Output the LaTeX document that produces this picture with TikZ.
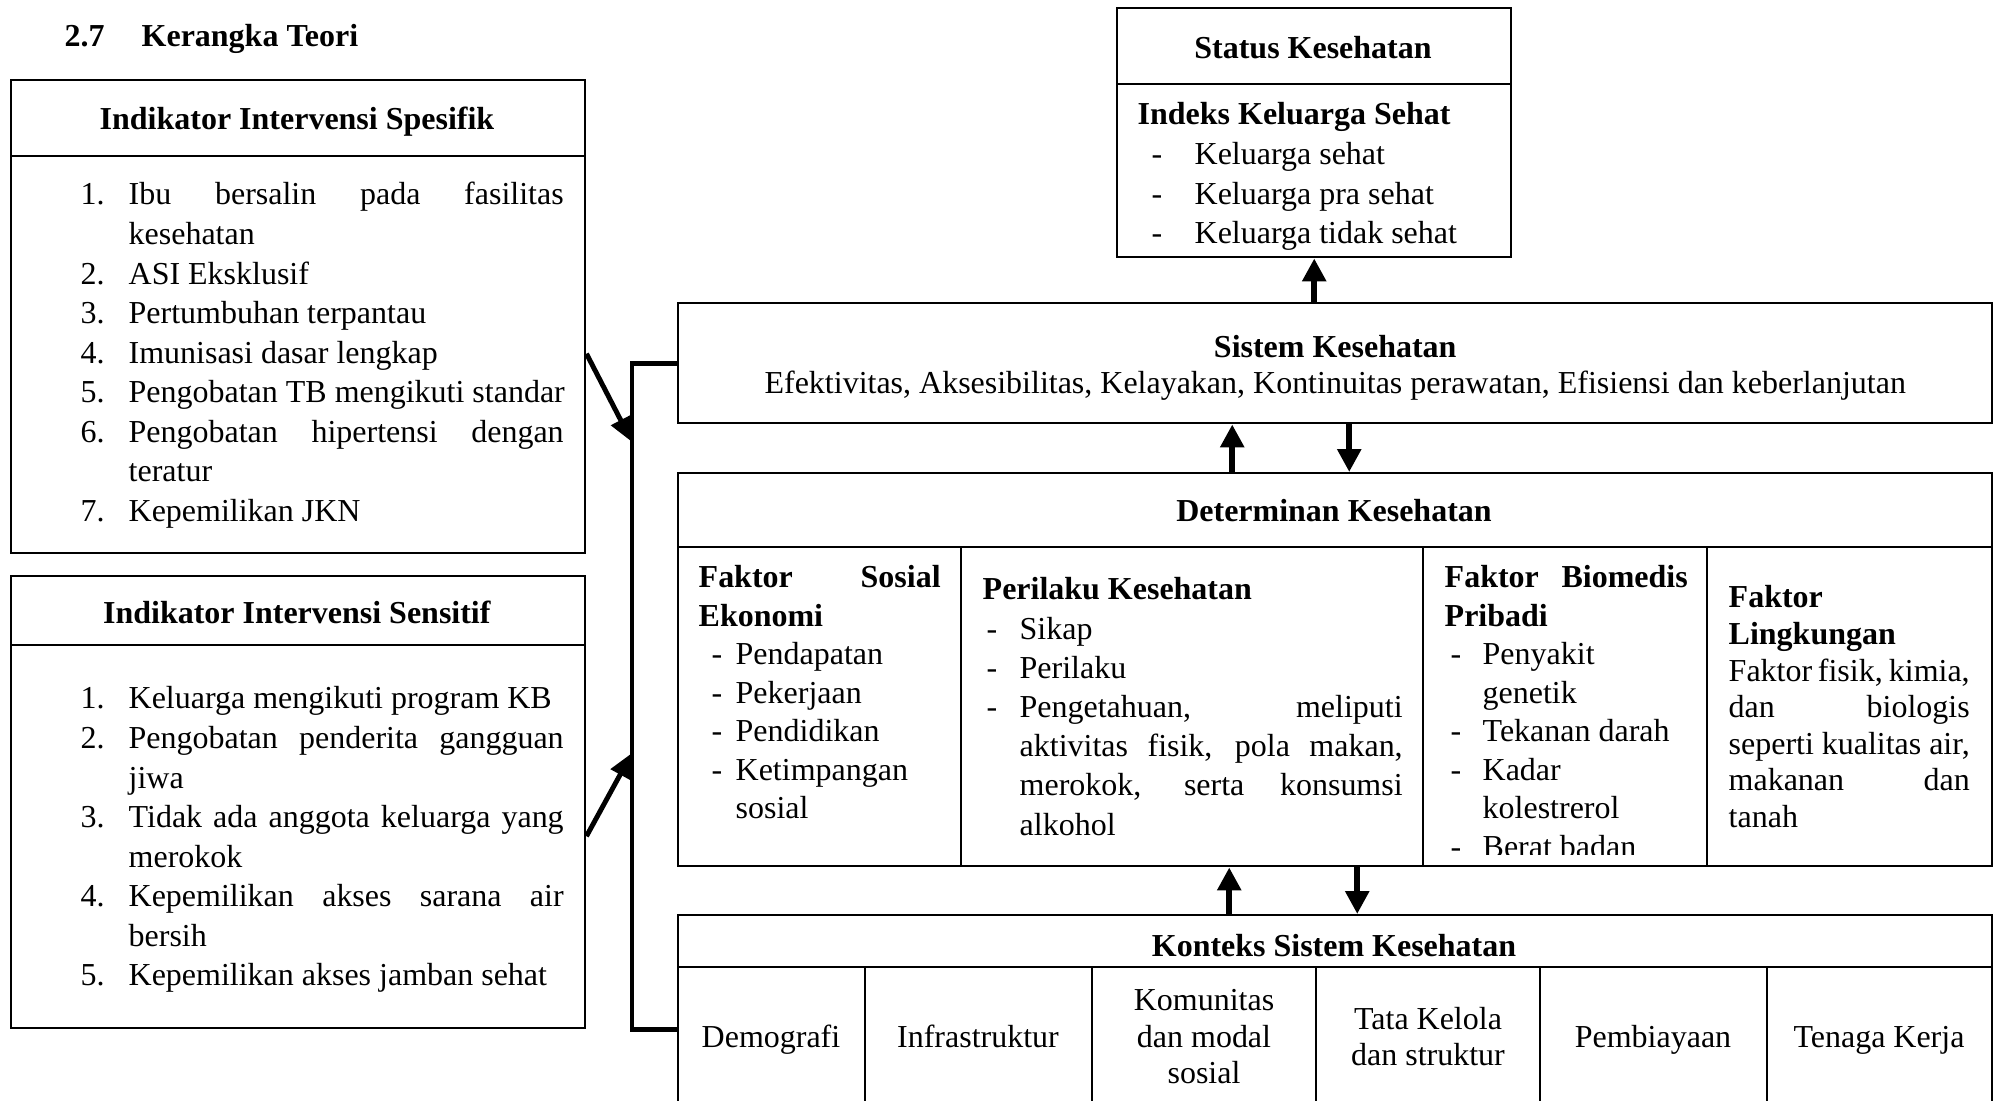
\documentclass[tikz,border=0pt]{standalone}
\usepackage{fontspec}
\setmainfont{Liberation Serif}
\usetikzlibrary{arrows.meta}

\newcommand{\jline}[2]{\makebox[#1][s]{#2}}
\newcommand{\dsh}[1]{\hspace{#1}-}

\begin{document}
\begin{tikzpicture}[
  font=\fontsize{9.1}{11.25}\selectfont,
  box/.style={draw, line width=0.7pt, rectangle, inner sep=0, anchor=north west},
  txt/.style={inner sep=0, anchor=base west},
  bigarrow/.style={line width=1.7pt, -{Triangle[width=6.5pt,length=6.5pt]}},
  diagarrow/.style={line width=1.4pt, -{Triangle[width=6pt,length=7pt]}},
  bracket/.style={line width=1.4pt}
]
\clip (0,0) rectangle (20,-11.01);

\node[txt] (title) at (0.64,-0.47) {\makebox[0.77cm][l]{\textbf{2.7}}\textbf{Kerangka Teori}};

\node[box, minimum width=5.74cm, minimum height=4.73cm] (spes) at (0.10,-0.79) {};
\draw[line width=0.7pt] (0.10,-1.56) -- (5.84,-1.56);
\node (spesh) at (2.97,-1.22) {\textbf{Indikator Intervensi Spesifik}};
\node[txt] (spesl) at (0.80,-2.05) {\begin{tabular}[t]{@{}p{0.48cm}@{}l@{}}
1. & \jline{4.35cm}{Ibu bersalin pada fasilitas}\\
   & kesehatan\\
2. & ASI Eksklusif\\
3. & Pertumbuhan terpantau\\
4. & Imunisasi dasar lengkap\\
5. & Pengobatan TB mengikuti standar\\
6. & \jline{4.35cm}{Pengobatan hipertensi dengan}\\
   & teratur\\
7. & Kepemilikan JKN
\end{tabular}};

\node[box, minimum width=5.74cm, minimum height=4.52cm] (sens) at (0.10,-5.75) {};
\draw[line width=0.7pt] (0.10,-6.45) -- (5.84,-6.45);
\node (sensh) at (2.97,-6.12) {\textbf{Indikator Intervensi Sensitif}};
\node[txt] (sensl) at (0.80,-7.09) {\begin{tabular}[t]{@{}p{0.48cm}@{}l@{}}
1. & Keluarga mengikuti program KB\\
2. & \jline{4.35cm}{Pengobatan penderita gangguan}\\
   & jiwa\\
3. & \jline{4.35cm}{Tidak ada anggota keluarga yang}\\
   & merokok\\
4. & \jline{4.35cm}{Kepemilikan akses sarana air}\\
   & bersih\\
5. & Kepemilikan akses jamban sehat
\end{tabular}};

\node[box, minimum width=3.94cm, minimum height=2.49cm] (status) at (11.16,-0.07) {};
\draw[line width=0.7pt] (11.16,-0.84) -- (15.10,-0.84);
\node (statush) at (13.13,-0.48) {\textbf{Status Kesehatan}};
\node[txt] (statusl) at (11.37,-1.25) {\begin{tabular}[t]{@{}p{0.57cm}@{}l@{}}
\multicolumn{2}{@{}l@{}}{\textbf{Indeks Keluarga Sehat}}\\
\dsh{0.14cm} & Keluarga sehat\\
\dsh{0.14cm} & Keluarga pra sehat\\
\dsh{0.14cm} & Keluarga tidak sehat
\end{tabular}};

\node[box, minimum width=13.14cm, minimum height=1.20cm] (sistem) at (6.77,-3.02) {};
\node[align=center, inner sep=0, font=\fontsize{9.1}{10.2}\selectfont] (sisteml) at ([yshift=-0.05cm]sistem.center)
  {\textbf{Sistem Kesehatan}\\Efektivitas, Aksesibilitas, Kelayakan, Kontinuitas perawatan, Efisiensi dan keberlanjutan};

\node[box, minimum width=13.14cm, minimum height=3.93cm] (det) at (6.77,-4.72) {};
\draw[line width=0.7pt] (6.77,-5.47) -- (19.91,-5.47);
\foreach \x in {9.61,14.23,17.07}
  {\draw[line width=0.7pt] (\x,-5.47) -- (\x,-8.65);}
\node (deth) at (13.34,-5.11) {\textbf{Determinan Kesehatan}};

\node[txt, font=\fontsize{9.1}{10.95}\selectfont] (sosek) at (6.98,-5.88) {\begin{tabular}[t]{@{}p{0.37cm}@{}l@{}}
\multicolumn{2}{@{}l@{}}{\textbf{\jline{2.42cm}{Faktor Sosial}}}\\
\multicolumn{2}{@{}l@{}}{\textbf{Ekonomi}}\\
\dsh{0.13cm} & Pendapatan\\
\dsh{0.13cm} & Pekerjaan\\
\dsh{0.13cm} & Pendidikan\\
\dsh{0.13cm} & Ketimpangan\\
             & sosial
\end{tabular}};

\node[txt, font=\fontsize{9.1}{11.15}\selectfont] (perilaku) at (9.82,-6.00) {\begin{tabular}[t]{@{}p{0.37cm}@{}l@{}}
\multicolumn{2}{@{}l@{}}{\textbf{Perilaku Kesehatan}}\\
\dsh{0.04cm} & Sikap\\
\dsh{0.04cm} & Perilaku\\
\dsh{0.04cm} & \jline{3.83cm}{Pengetahuan, meliputi}\\
             & \jline{3.83cm}{aktivitas fisik, pola makan,}\\
             & \jline{3.83cm}{merokok, serta konsumsi}\\
             & alkohol
\end{tabular}};

\begin{scope}
\clip (14.23,-5.47) rectangle (17.07,-8.55);
\node[txt, font=\fontsize{9.1}{10.95}\selectfont] (biomed) at (14.44,-5.88) {\begin{tabular}[t]{@{}p{0.38cm}@{}l@{}}
\multicolumn{2}{@{}l@{}}{\textbf{\jline{2.43cm}{Faktor Biomedis}}}\\
\multicolumn{2}{@{}l@{}}{\textbf{Pribadi}}\\
\dsh{0.06cm} & Penyakit\\
             & genetik\\
\dsh{0.06cm} & Tekanan darah\\
\dsh{0.06cm} & Kadar\\
             & kolestrerol\\
\dsh{0.06cm} & Berat badan
\end{tabular}};
\end{scope}

\node[txt, font=\fontsize{9.1}{10.4}\selectfont] (lingk) at (17.28,-6.08) {\begin{tabular}[t]{@{}l@{}}
\textbf{Faktor}\\
\textbf{Lingkungan}\\
\jline{2.41cm}{Faktor fisik, kimia,}\\
\jline{2.41cm}{dan biologis}\\
\jline{2.41cm}{seperti kualitas air,}\\
\jline{2.41cm}{makanan dan}\\
tanah
\end{tabular}};

\node[box, minimum width=13.14cm, minimum height=2.1cm] (kon) at (6.77,-9.14) {};
\draw[line width=0.7pt] (6.77,-9.67) -- (19.91,-9.67);
\foreach \x in {8.65,10.92,13.16,15.40,17.67}
  {\draw[line width=0.7pt] (\x,-9.67) -- (\x,-11.3);}
\node (konh) at (13.34,-9.46) {\textbf{Konteks Sistem Kesehatan}};
\foreach \x/\txt [count=\i] in {7.71/Demografi, 9.78/Infrastruktur, 12.04/{Komunitas\\dan modal\\sosial},
    14.28/{Tata Kelola\\dan struktur}, 16.53/Pembiayaan, 18.79/Tenaga Kerja}
  {\node[align=center, inner sep=0, font=\fontsize{9.1}{10.4}\selectfont] (cell\i) at (\x,-10.40) {\strut\txt\strut};}

\draw[bigarrow] (sistem.north -| status.south) -- (status.south);
\draw[bigarrow] ([xshift=-1.03cm]det.north) -- ([xshift=-1.03cm]sistem.south);
\draw[bigarrow] ([xshift=0.14cm]sistem.south) -- ([xshift=0.14cm]det.north);
\draw[bigarrow] ([xshift=-1.06cm]kon.north) -- ([xshift=-1.06cm]det.south);
\draw[bigarrow] ([xshift=0.22cm]det.south) -- ([xshift=0.22cm]kon.north);

\coordinate (brtop) at ([xshift=-0.45cm]sistem.west);
\coordinate (brbot) at (brtop |- sens.south);
\coordinate (tipa) at (6.32,-4.42);
\coordinate (tipb) at (6.32,-7.53);
\draw[bracket] (sistem.west) -- (brtop) -- (brbot) -- (brbot -| kon.west);
\draw[diagarrow] ([yshift=-0.37cm]spes.east) -- (tipa);
\draw[diagarrow] ([yshift=-0.34cm]sens.east) -- (tipb);

\end{tikzpicture}
\end{document}
